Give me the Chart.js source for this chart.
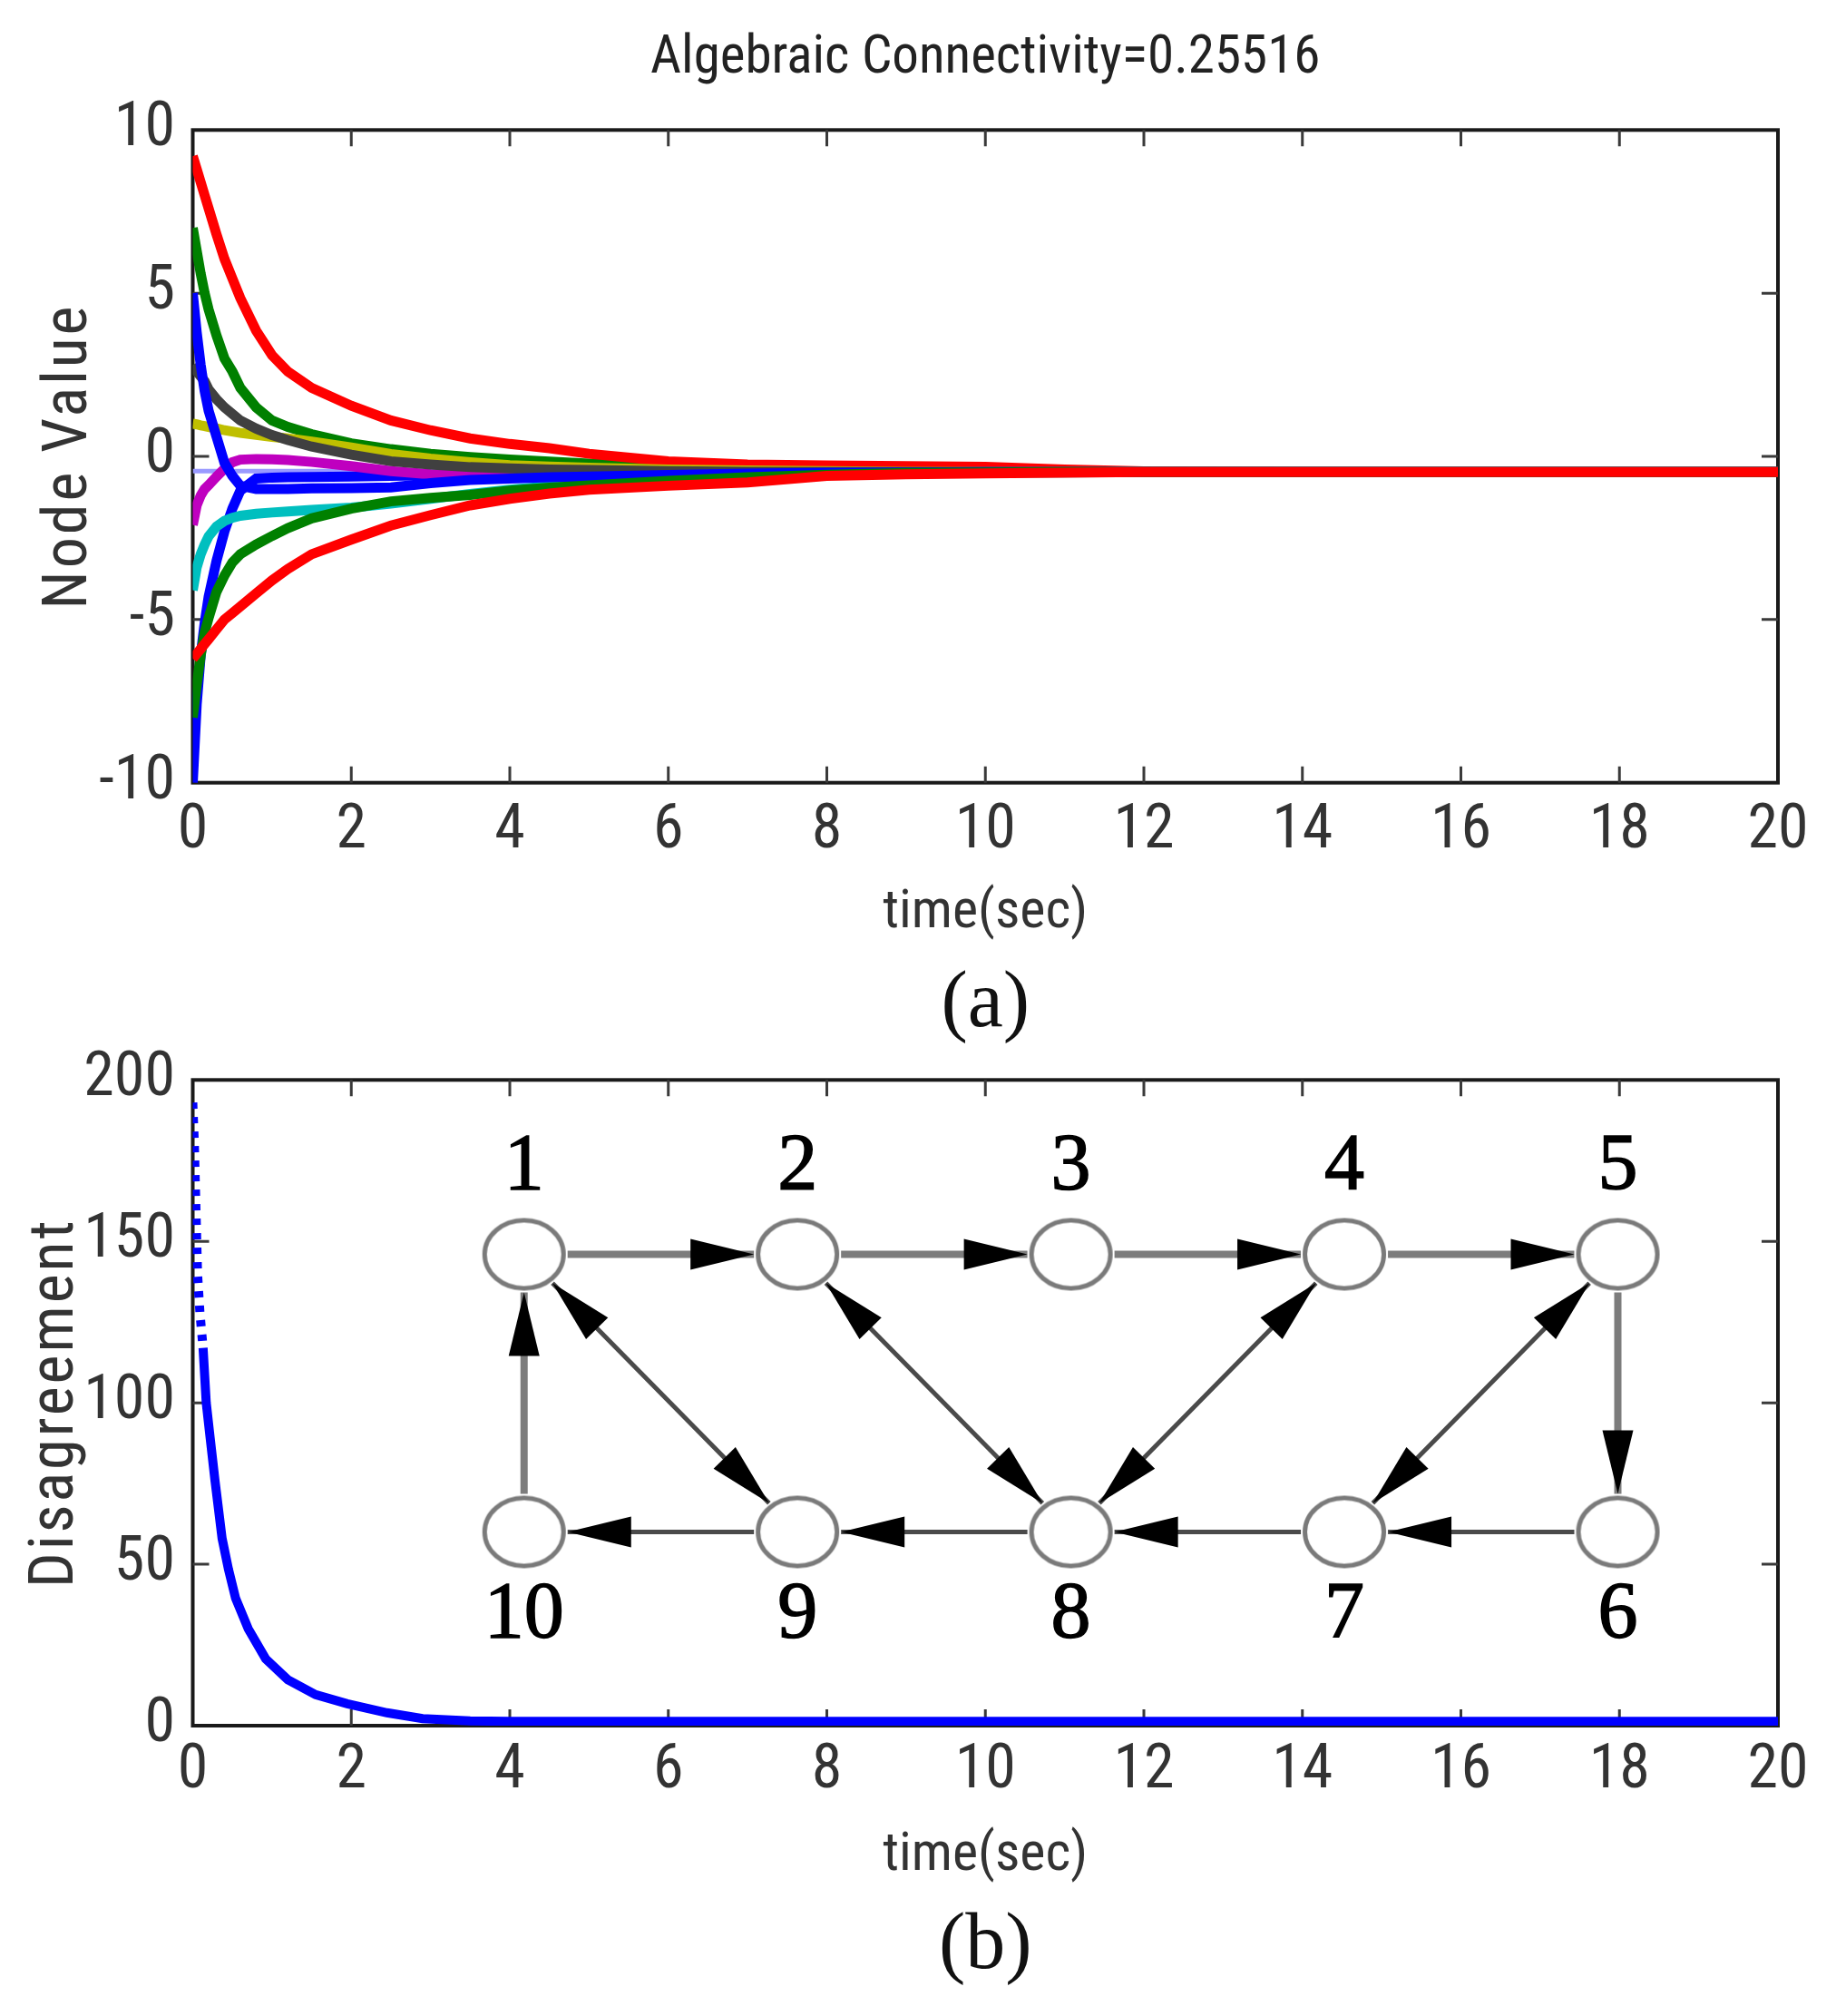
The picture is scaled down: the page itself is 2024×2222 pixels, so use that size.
<!DOCTYPE html>
<html>
<head>
<meta charset="utf-8">
<script src="https://cdn.jsdelivr.net/npm/chart.js@4.4.1/dist/chart.umd.min.js"></script>
<style>
  html, body { margin: 0; padding: 0; background: #fff; }
  #page { position: relative; width: 2024px; height: 2222px; }
  #boxA { position: absolute; left: 0; top: 0; width: 2024px; height: 1165px; }
  #boxB { position: absolute; left: 0; top: 1130px; width: 2024px; height: 1092px; }
</style>
</head>
<body>
<div id="page">
  <div id="boxA"><canvas id="chartA"></canvas></div>
  <div id="boxB"><canvas id="chartB"></canvas></div>
</div>
<script>
// ---- panel (a): node values over time ----
const timeA = [0, 0.05, 0.1, 0.15, 0.2, 0.3, 0.4, 0.5, 0.6, 0.8, 1.0, 1.2, 1.5, 2.0, 2.5, 3.0, 3.5, 4.0, 4.5, 5.0, 6.0, 7.0, 8.0, 9.0, 10.0, 11.0, 12.0, 14.0, 16.0, 18.0, 20.0];

const node1  = [-10.0, -7.6, -6.1, -5.1, -4.3, -3.2, -2.3, -1.6, -1.05, -0.68, -0.65, -0.64, -0.63, -0.62, -0.6, -0.58, -0.57, -0.56, -0.55, -0.54, -0.52, -0.5, -0.49, -0.48, -0.48, -0.48, -0.48, -0.48, -0.48, -0.48, -0.48];
const node2  = [7.0, 6.3, 5.6, 5.0, 4.5, 3.7, 3.0, 2.6, 2.1, 1.5, 1.1, 0.9, 0.68, 0.4, 0.22, 0.08, -0.02, -0.1, -0.16, -0.22, -0.3, -0.36, -0.4, -0.43, -0.45, -0.47, -0.48, -0.48, -0.48, -0.48, -0.48];
const node3  = [9.2, 8.8, 8.4, 8.0, 7.6, 6.8, 6.05, 5.45, 4.85, 3.85, 3.1, 2.6, 2.1, 1.55, 1.1, 0.8, 0.55, 0.38, 0.25, 0.08, -0.15, -0.25, -0.28, -0.3, -0.32, -0.4, -0.46, -0.48, -0.48, -0.48, -0.48];
const node4  = [-4.1, -3.4, -3.0, -2.7, -2.45, -2.15, -1.98, -1.88, -1.82, -1.76, -1.72, -1.69, -1.64, -1.57, -1.45, -1.3, -1.15, -1.02, -0.92, -0.84, -0.72, -0.62, -0.56, -0.52, -0.5, -0.49, -0.48, -0.48, -0.48, -0.48, -0.48];
const node5  = [-2.1, -1.5, -1.2, -1.0, -0.88, -0.62, -0.38, -0.18, -0.1, -0.08, -0.09, -0.11, -0.17, -0.3, -0.45, -0.55, -0.58, -0.58, -0.57, -0.56, -0.54, -0.52, -0.5, -0.49, -0.48, -0.48, -0.48, -0.48, -0.48, -0.48, -0.48];
const node6  = [1.0, 0.98, 0.95, 0.93, 0.9, 0.86, 0.8, 0.76, 0.72, 0.66, 0.6, 0.55, 0.45, 0.27, 0.07, -0.07, -0.18, -0.27, -0.31, -0.35, -0.4, -0.43, -0.45, -0.47, -0.48, -0.48, -0.48, -0.48, -0.48, -0.48, -0.48];
const node7  = [2.8, 2.6, 2.45, 2.3, 2.05, 1.75, 1.5, 1.3, 1.1, 0.85, 0.65, 0.5, 0.3, 0.05, -0.15, -0.25, -0.33, -0.37, -0.4, -0.42, -0.45, -0.47, -0.48, -0.48, -0.48, -0.48, -0.48, -0.48, -0.48, -0.48, -0.48];
const node8  = [5.0, 3.8, 2.8, 2.0, 1.4, 0.6, -0.2, -0.6, -0.9, -1.0, -1.0, -1.0, -0.98, -0.97, -0.95, -0.82, -0.72, -0.68, -0.64, -0.62, -0.57, -0.53, -0.5, -0.49, -0.48, -0.48, -0.48, -0.48, -0.48, -0.48, -0.48];
const node9  = [-8.0, -7.0, -6.1, -5.4, -4.95, -4.15, -3.65, -3.25, -3.0, -2.7, -2.44, -2.2, -1.9, -1.6, -1.38, -1.27, -1.18, -1.05, -0.96, -0.89, -0.75, -0.64, -0.56, -0.51, -0.49, -0.48, -0.48, -0.48, -0.48, -0.48, -0.48];
const node10 = [-6.2, -6.05, -5.9, -5.75, -5.6, -5.3, -5.0, -4.8, -4.6, -4.2, -3.8, -3.45, -3.0, -2.55, -2.12, -1.8, -1.5, -1.3, -1.14, -1.02, -0.9, -0.8, -0.6, -0.55, -0.52, -0.5, -0.48, -0.48, -0.48, -0.48, -0.48];

const meanTime  = [0, 20];
const meanValue = [-0.45, -0.45];

const xTicks  = [0, 2, 4, 6, 8, 10, 12, 14, 16, 18, 20];
const yTicksA = [-10, -5, 0, 5, 10];
const yTicksB = [0, 50, 100, 150, 200];

// ---- panel (b): disagreement + graph inset ----
const timeB = [0, 0.02, 0.04, 0.06, 0.09, 0.13, 0.17, 0.22, 0.28, 0.37, 0.45, 0.54, 0.7, 0.92, 1.2, 1.55, 1.95, 2.45, 2.9, 3.5, 4, 6, 8, 10, 12, 14, 16, 18, 20];
const disagreement = [193, 180, 160, 140, 128, 117, 100, 89, 76, 58, 48.5, 39.5, 30, 20.7, 14.2, 9.6, 6.8, 4.0, 2.2, 1.5, 1.3, 1.3, 1.3, 1.3, 1.3, 1.3, 1.3, 1.3, 1.3];

const nodeLabels = ['1', '2', '3', '4', '5', '6', '7', '8', '9', '10'];
const nodeX = [4.18, 7.63, 11.08, 14.53, 17.98, 17.98, 14.53, 11.08, 7.63, 4.18];
const nodeY = [146, 146, 146, 146, 146, 60, 60, 60, 60, 60];
const oneWayEdges = [[1, 2], [2, 3], [3, 4], [4, 5], [5, 6], [6, 7], [7, 8], [8, 9], [9, 10], [10, 1]];
const twoWayEdges = [[1, 9], [2, 8], [4, 8], [5, 7]];

// ---- styling ----
const SANS = "'Roboto Condensed', 'DejaVu Sans Condensed', sans-serif";
const SERIF = "'Liberation Serif', 'DejaVu Serif', serif";
const nodeColors = ['#0000ff', '#008000', '#ff0000', '#00bfbf', '#bf00bf', '#bfbf00', '#404040', '#0000ff', '#008000', '#ff0000'];
const TICK = 18;
const NODE_RX = 46, NODE_RY = 40;

Chart.defaults.font.family = SANS;
Chart.defaults.color = '#333';
Chart.defaults.animation = false;

const boxPlugin = {
  id: 'matlabBox',
  beforeDatasetsDraw(chart) {
    const { ctx, chartArea: a, scales: { x, y } } = chart;
    ctx.save();
    ctx.strokeStyle = '#1a1a1a';
    ctx.lineWidth = 4;
    ctx.strokeRect(a.left, a.top, a.right - a.left, a.bottom - a.top);
    ctx.strokeStyle = '#3a3a3a';
    ctx.lineWidth = 3;
    ctx.beginPath();
    x.ticks.forEach(t => {
      if (t.value <= x.min || t.value >= x.max) return;
      const px = x.getPixelForValue(t.value);
      ctx.moveTo(px, a.bottom); ctx.lineTo(px, a.bottom - TICK);
      ctx.moveTo(px, a.top); ctx.lineTo(px, a.top + TICK);
    });
    y.ticks.forEach(t => {
      if (t.value <= y.min || t.value >= y.max) return;
      const py = y.getPixelForValue(t.value);
      ctx.moveTo(a.left, py); ctx.lineTo(a.left + TICK, py);
      ctx.moveTo(a.right, py); ctx.lineTo(a.right - TICK, py);
    });
    ctx.stroke();
    ctx.restore();
  }
};

// the y-axis titles are letter-spaced in the original figure
const spacedTitle = {
  id: 'spacedTitle',
  beforeDraw(chart, args, opts) {
    const s = chart.scales.y;
    if (s && !s._spaced) {
      const draw = s.drawTitle;
      s.drawTitle = function () {
        const c = this.ctx;
        c.save();
        c.letterSpacing = opts.spacing;
        draw.call(this);
        c.restore();
      };
      s._spaced = true;
    }
  }
};

function arrowHead(ctx, tx, ty, ux, uy) {
  const L = 70, W = 17;
  const bx = tx - ux * L, by = ty - uy * L;
  ctx.beginPath();
  ctx.moveTo(tx, ty);
  ctx.lineTo(bx - uy * W, by + ux * W);
  ctx.lineTo(bx + uy * W, by - ux * W);
  ctx.closePath();
  ctx.fill();
}

function edgeGap(ux, uy) {
  return 1 / Math.sqrt((ux / NODE_RX) ** 2 + (uy / NODE_RY) ** 2);
}

const graphPlugin = {
  id: 'graphInset',
  beforeDatasetsDraw(chart) {
    const { ctx, scales: { x, y } } = chart;
    const px = i => x.getPixelForValue(nodeX[i - 1]);
    const py = i => y.getPixelForValue(nodeY[i - 1]);
    const edges = oneWayEdges.map(e => [e[0], e[1], false]).concat(twoWayEdges.map(e => [e[0], e[1], true]));
    ctx.save();
    edges.forEach(([from, to, both]) => {
      const x0 = px(from), y0 = py(from), x1 = px(to), y1 = py(to);
      const len = Math.hypot(x1 - x0, y1 - y0);
      const ux = (x1 - x0) / len, uy = (y1 - y0) / len;
      const g = edgeGap(ux, uy) + 2;
      const sx = x0 + ux * g, sy = y0 + uy * g;
      const ex = x1 - ux * g, ey = y1 - uy * g;
      const light = nodeY[from - 1] === nodeY[to - 1] ? nodeY[from - 1] > 100 : !both;
      ctx.strokeStyle = light ? '#7c7c7c' : '#4a4a4a';
      ctx.lineWidth = light ? 8 : 5;
      ctx.beginPath();
      ctx.moveTo(sx, sy);
      ctx.lineTo(ex, ey);
      ctx.stroke();
      ctx.fillStyle = '#000';
      arrowHead(ctx, ex, ey, ux, uy);
      if (both) arrowHead(ctx, sx, sy, -ux, -uy);
    });
    ctx.restore();
  },
  afterDatasetsDraw(chart) {
    const { ctx, scales: { x, y } } = chart;
    ctx.save();
    ctx.font = '88px ' + SERIF;
    ctx.fillStyle = '#000';
    ctx.strokeStyle = '#000';
    ctx.lineWidth = 1.5;
    ctx.textAlign = 'center';
    ctx.textBaseline = 'middle';
    nodeLabels.forEach((lab, i) => {
      const cx = x.getPixelForValue(nodeX[i]);
      const cy = y.getPixelForValue(nodeY[i]);
      const ty = nodeY[i] > 100 ? cy - 96 : cy + 92;
      ctx.fillText(lab, cx, ty);
      ctx.strokeText(lab, cx, ty);
    });
    ctx.restore();
  }
};

function nodeGlyph() {
  const lw = 5;
  const c = document.createElement('canvas');
  c.width = 2 * NODE_RX + 4;
  c.height = 2 * NODE_RY + 4;
  const g = c.getContext('2d');
  g.beginPath();
  g.ellipse(c.width / 2, c.height / 2, NODE_RX - lw / 2, NODE_RY - lw / 2, 0, 0, 2 * Math.PI);
  g.fillStyle = '#fff';
  g.fill();
  g.lineWidth = lw;
  g.strokeStyle = '#7a7a7a';
  g.stroke();
  return c;
}

function xAxis(tickPad, height, titlePad) {
  return {
    type: 'linear', min: 0, max: 20,
    grid: { display: false, drawTicks: false },
    border: { display: false },
    afterBuildTicks: s => { s.ticks = xTicks.map(v => ({ value: v })); },
    ticks: { padding: tickPad, maxRotation: 0, autoSkip: false, font: { size: 68 }, color: '#333' },
    title: { display: true, text: 'time(sec)', font: { size: 60 }, color: '#333', padding: { top: 0, bottom: titlePad } },
    afterFit: s => { s.height = height; }
  };
}

function yAxis(min, max, ticks, label, titlePad) {
  return {
    min: min, max: max,
    grid: { display: false, drawTicks: false },
    border: { display: false },
    afterBuildTicks: s => { s.ticks = ticks.map(v => ({ value: v })); },
    ticks: { padding: 19.5, font: { size: 68 }, color: '#333' },
    title: { display: true, text: label, font: { size: 68 }, color: '#333', padding: { top: titlePad, bottom: 0 } },
    afterFit: s => { s.width = 212.5; }
  };
}

function panelTag(text, padBottom) {
  return {
    display: true,
    position: 'bottom',
    fullSize: false,
    text: text,
    font: { family: SERIF, size: 88, weight: 'normal' },
    color: '#111',
    padding: { top: 0, bottom: padBottom }
  };
}

const seriesA = [node1, node2, node3, node4, node5, node6, node7, node8, node9, node10];
const datasetsA = seriesA.map((vals, i) => ({
  label: 'node ' + (i + 1),
  data: timeA.map((t, k) => ({ x: t, y: vals[k] })),
  borderColor: nodeColors[i],
  borderWidth: 11,
  pointRadius: 0,
  order: seriesA.length - i
}));
datasetsA.push({
  label: 'mean',
  data: meanTime.map((t, k) => ({ x: t, y: meanValue[k] })),
  borderColor: '#9a9aff',
  borderWidth: 5,
  pointRadius: 0,
  order: seriesA.length + 1
});

new Chart(document.getElementById('chartA'), {
  type: 'line',
  data: { datasets: datasetsA },
  options: {
    responsive: true,
    maintainAspectRatio: false,
    devicePixelRatio: 1,
    layout: { padding: { left: 0, right: 64, top: 0, bottom: 0 } },
    scales: {
      x: xAxis(13.2, 192.5, 12.2),
      y: yAxis(-10, 10, yTicksA, 'Node Value', 37.2)
    },
    plugins: {
      legend: { display: false },
      tooltip: { enabled: false },
      spacedTitle: { spacing: '3px' },
      title: {
        display: true,
        fullSize: false,
        text: 'Algebraic Connectivity=0.25516',
        font: { size: 59, weight: 'normal' },
        color: '#222',
        padding: { top: 30, bottom: 42.5 }
      },
      subtitle: panelTag('(a)', 4.2)
    }
  },
  plugins: [boxPlugin, spacedTitle]
});

new Chart(document.getElementById('chartB'), {
  type: 'line',
  data: {
    datasets: [
      {
        label: 'Disagreement',
        data: timeB.map((t, k) => ({ x: t, y: disagreement[k] })),
        borderColor: '#0000ff',
        borderWidth: 10,
        pointRadius: 0,
        order: 1,
        segment: { borderDash: c => (c.p1.parsed.x <= 0.13 ? [7, 9] : undefined) }
      },
      {
        label: 'nodes',
        data: nodeX.map((v, i) => ({ x: v, y: nodeY[i] })),
        showLine: false,
        pointStyle: nodeGlyph(),
        pointRadius: 40,
        order: 0
      }
    ]
  },
  options: {
    responsive: true,
    maintainAspectRatio: false,
    devicePixelRatio: 1,
    layout: { padding: { left: 0, right: 64, top: 53, bottom: 0 } },
    scales: {
      x: xAxis(10.2, 191.2, 11.2),
      y: yAxis(0, 200, yTicksB, 'Disagreement', 22.2)
    },
    plugins: {
      legend: { display: false },
      tooltip: { enabled: false },
      spacedTitle: { spacing: '3px' },
      subtitle: panelTag('(b)', 23.2)
    }
  },
  plugins: [boxPlugin, graphPlugin, spacedTitle]
});
</script>
</body>
</html>
